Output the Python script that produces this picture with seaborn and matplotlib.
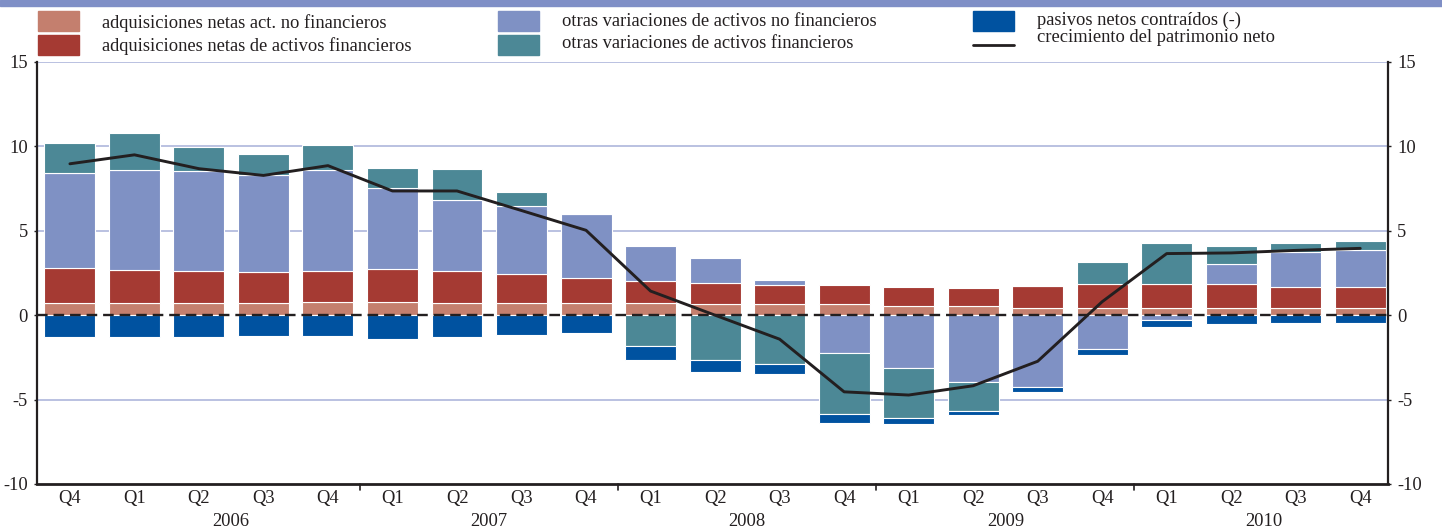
import numpy as np
import pandas as pd
import matplotlib
matplotlib.use("Agg")
import matplotlib.pyplot as plt
import matplotlib.transforms as mtransforms
from matplotlib.patches import Rectangle
from matplotlib.lines import Line2D
import seaborn as sns

# 2005 Q4 .. 2010 Q4
quarters = ["Q4", "Q1", "Q2", "Q3", "Q4", "Q1", "Q2", "Q3", "Q4", "Q1", "Q2",
            "Q3", "Q4", "Q1", "Q2", "Q3", "Q4", "Q1", "Q2", "Q3", "Q4"]
years = ["2006", "2007", "2008", "2009", "2010"]
year_pos = [2.5, 6.5, 10.5, 14.5, 18.5]
year_breaks = [4.5, 8.5, 12.5, 16.5]

adq_no_fin = [0.75, 0.72, 0.72, 0.72, 0.78, 0.78, 0.72, 0.72, 0.72, 0.72, 0.67,
              0.67, 0.64, 0.57, 0.52, 0.42, 0.40, 0.40, 0.40, 0.40, 0.40]
adq_fin = [2.07, 1.98, 1.90, 1.84, 1.84, 1.94, 1.90, 1.75, 1.49, 1.33, 1.26,
           1.14, 1.17, 1.09, 1.12, 1.33, 1.45, 1.45, 1.43, 1.27, 1.27]
otras_no_fin = [5.62, 5.88, 5.92, 5.74, 5.96, 4.83, 4.22, 4.00, 3.79, 2.03, 1.44,
                0.30, -2.25, -3.10, -3.96, -4.26, -2.03, -0.28, 1.20, 2.08, 2.19]
otras_fin = [1.78, 2.19, 1.40, 1.23, 1.52, 1.15, 1.80, 0.85, 0.00, -1.80, -2.65,
             -2.88, -3.63, -3.00, -1.70, 0.00, 1.30, 2.40, 1.07, 0.51, 0.52]
pasivos = [-1.30, -1.28, -1.28, -1.24, -1.24, -1.40, -1.28, -1.20, -1.07, -0.83, -0.71,
           -0.63, -0.48, -0.33, -0.26, -0.30, -0.34, -0.44, -0.52, -0.48, -0.48]
patrimonio = [8.97, 9.50, 8.68, 8.28, 8.86, 7.36, 7.36, 6.20, 5.03, 1.43, 0.00,
              -1.42, -4.54, -4.73, -4.18, -2.73, 0.80, 3.65, 3.69, 3.84, 3.96]

labels = ["adquisiciones netas act. no financieros",
          "adquisiciones netas de activos financieros",
          "otras variaciones de activos no financieros",
          "otras variaciones de activos financieros",
          "pasivos netos contraídos (-)",
          "crecimiento del patrimonio neto"]
colors = ["#c47f6e", "#a53a33", "#7f91c4", "#4c8896", "#0052a0", "#231f20"]

n = len(quarters)
pos = np.arange(n)
df = pd.DataFrame({"pos": pos, "adq_no_fin": adq_no_fin, "adq_fin": adq_fin,
                   "otras_no_fin": otras_no_fin, "otras_fin": otras_fin,
                   "pasivos": pasivos, "patrimonio": patrimonio})

sns.set_style("white")
plt.rcParams['font.family'] = ['Liberation Serif', 'DejaVu Serif']
fs = 13.3

W, H = 1442, 529
fig = plt.figure(figsize=(W / 100, H / 100), dpi=100)
ax = fig.add_axes([37 / W, 45 / H, (1388 - 37) / W, 422 / H])

# stacked bars, positives up and negatives down
pos_base = np.zeros(n)
neg_base = np.zeros(n)
for col, c in zip(["adq_no_fin", "adq_fin", "otras_no_fin", "otras_fin", "pasivos"], colors[:5]):
    vals = df[col].to_numpy(float)
    bottom = np.where(vals >= 0, pos_base, neg_base)
    sns.barplot(data=df, x="pos", y=col, native_scale=True, bottom=bottom,
                color=c, saturation=1, width=0.79, errorbar=None,
                edgecolor="white", linewidth=0.8, ax=ax, zorder=2)
    pos_base += np.clip(vals, 0, None)
    neg_base += np.clip(vals, None, 0)

sns.lineplot(data=df, x="pos", y="patrimonio", color=colors[5], lw=2.1, ax=ax, zorder=4)

for g in [15, 10, 5, -5]:
    ax.axhline(g, color="#b4bcde", lw=1.3, zorder=0)
ax.axhline(0, color="#231f20", lw=1.7, ls=(0, (4.5, 2.5)), zorder=3)

ax.set_xlim(-0.51, 20.43)
ax.set_ylim(-10, 15)
ax.set_yticks([-10, -5, 0, 5, 10, 15])
ax.set_yticklabels(["-10", "-5", "0", "5", "10", "15"])
ax.set_xlabel("")
ax.set_ylabel("")

ax.set_xticks(pos)
ax.set_xticklabels(quarters)
ax.set_xticks(np.arange(0.5, n - 1, 1), minor=True)
ax.tick_params(axis="x", which="major", length=0, pad=4, labelsize=fs, colors="#231f20")
ax.tick_params(axis="x", which="minor", length=3.5, width=1, direction="out", color="#231f20")
ax.tick_params(axis="y", length=2.5, width=1, direction="out", pad=4, labelsize=fs,
               left=True, right=True, labelleft=True, labelright=True, colors="#231f20")

for s in ["left", "right"]:
    ax.spines[s].set_color("#231f20")
    ax.spines[s].set_linewidth(1.6)
ax.spines["bottom"].set_color("#231f20")
ax.spines["bottom"].set_linewidth(2.0)
ax.spines["top"].set_visible(False)

trans = mtransforms.blended_transform_factory(ax.transData, ax.transAxes)
for b in year_breaks:
    ax.add_line(Line2D([b, b], [0, -0.015], transform=trans, color="#231f20",
                       lw=1.2, clip_on=False))
for y, p in zip(years, year_pos):
    ax.text(p, -0.088, y, transform=trans, ha="center", va="center",
            fontsize=fs, color="#231f20")

# top band
fig.patches.append(Rectangle((0, 1 - 6 / H), 1, 6 / H, transform=fig.transFigure,
                             color="#7f8fc6", zorder=0))

# legend drawn by hand to keep the reference layout
leg = [
    (38, 11, 102, 23, 0),
    (38, 35, 102, 46, 1),
    (498, 11, 562, 21, 2),
    (498, 35, 562, 44, 3),
    (973, 11, 1037, 20, 4),
    (973, 35, 1037, 38, 5),
]
for px, py, tx, ty, i in leg:
    if i < 5:
        fig.patches.append(Rectangle((px / W, 1 - (py + 20) / H), 41 / W, 20 / H,
                                     transform=fig.transFigure, color=colors[i]))
    else:
        fig.lines.append(Line2D([px / W, (px + 41) / W], [1 - 45 / H, 1 - 45 / H],
                                transform=fig.transFigure, color=colors[i], lw=2))
    fig.text(tx / W, 1 - ty / H, labels[i], ha="left", va="center",
             fontsize=fs, color="#231f20")

fig.savefig("out.png", dpi=100, facecolor="white")
